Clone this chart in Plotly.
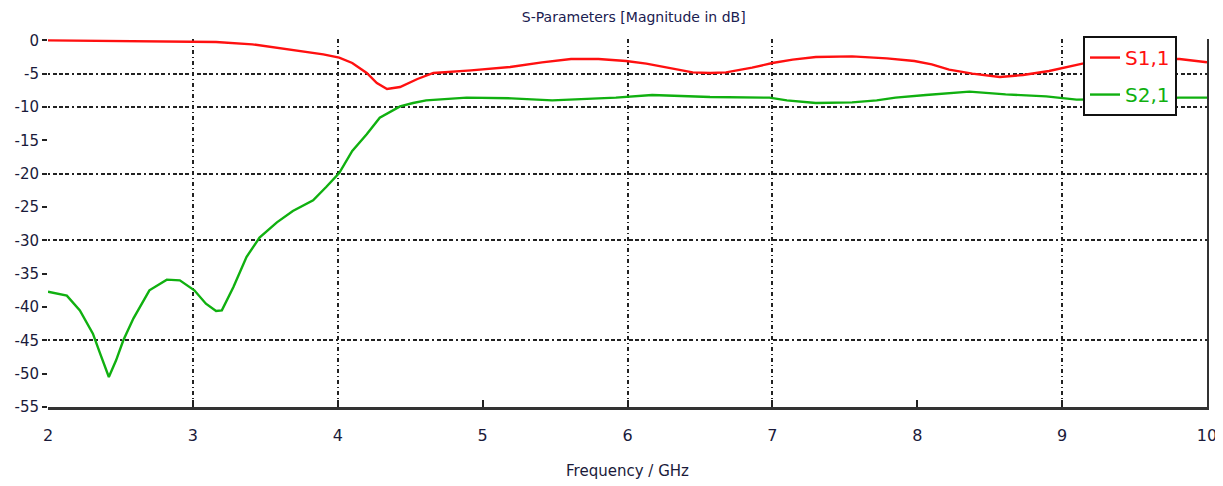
import plotly.graph_objects as go

# ---- data ----
freq_s11 = [2.0, 2.5, 2.75, 3.0, 3.16, 3.41, 3.61, 3.76, 3.9, 4.01, 4.1, 4.2, 4.27, 4.34,
            4.43, 4.55, 4.66, 4.92, 5.19, 5.41, 5.61, 5.8, 5.99, 6.13, 6.27, 6.45, 6.57,
            6.68, 6.86, 7.0, 7.14, 7.3, 7.55, 7.79, 7.98, 8.1, 8.22, 8.38, 8.57, 8.73,
            8.91, 9.03, 9.14, 9.4, 9.6, 9.81, 9.94, 10.0]
s11_db = [0.0, -0.1, -0.15, -0.2, -0.25, -0.6, -1.2, -1.7, -2.1, -2.6, -3.4, -4.9, -6.4, -7.3,
          -7.0, -5.8, -4.9, -4.5, -4.0, -3.3, -2.8, -2.8, -3.1, -3.5, -4.1, -4.8, -4.9,
          -4.8, -4.1, -3.4, -2.9, -2.5, -2.4, -2.7, -3.1, -3.6, -4.4, -5.0, -5.5, -5.2,
          -4.6, -4.0, -3.5, -3.0, -2.8, -2.8, -3.2, -3.3]

freq_s21 = [2.0, 2.13, 2.22, 2.31, 2.36, 2.42, 2.47, 2.52, 2.59, 2.70, 2.82, 2.91, 3.01, 3.09,
            3.16, 3.2, 3.28, 3.37, 3.46, 3.58, 3.69, 3.83, 3.92, 4.01, 4.1, 4.2, 4.29, 4.43,
            4.52, 4.61, 4.89, 5.2, 5.48, 5.92, 6.17, 6.57, 6.98, 7.1, 7.3, 7.55, 7.72, 7.85,
            8.06, 8.36, 8.61, 8.89, 9.1, 9.5, 9.81, 10.0]
s21_db = [-37.7, -38.3, -40.5, -44.0, -47.0, -50.5, -48.0, -45.0, -41.7, -37.5, -35.9, -36.0,
          -37.5, -39.5, -40.6, -40.5, -37.0, -32.5, -29.6, -27.3, -25.6, -24.0, -22.0, -19.9,
          -16.6, -14.1, -11.6, -9.9, -9.4, -9.0, -8.6, -8.7, -9.0, -8.6, -8.2, -8.5, -8.6,
          -9.0, -9.4, -9.3, -9.0, -8.6, -8.2, -7.7, -8.1, -8.4, -8.9, -8.8, -8.6, -8.6]

x_ticks = [2, 3, 4, 5, 6, 7, 8, 9, 10]
y_ticks = [0, -5, -10, -15, -20, -25, -30, -35, -40, -45, -50, -55]
y_tick_text = ["0", "-5", "-10", "-15", "-20", "-25", "-30", "-35", "-40", "-45", "-50", "-55"]
grid_x = [3, 4, 6, 7, 9]
grid_y = [-5, -10, -20, -30, -45]

title_text = "S-Parameters [Magnitude in dB]"
x_title = "Frequency / GHz"

RED = "#ff1010"
GREEN = "#10b010"
FONT = "DejaVu Sans"
X_RANGE = [2, 10]
Y_RANGE = [-55, 0.2]

fig = go.Figure()
fig.add_trace(go.Scatter(x=freq_s11, y=s11_db, mode="lines",
                         name=f"<span style='color:{RED}'>S1,1</span>",
                         line=dict(color=RED, width=2.4), legendgroup="a"))
fig.add_trace(go.Scatter(x=freq_s21, y=s21_db, mode="lines",
                         name=f"<span style='color:{GREEN}'>S2,1</span>",
                         line=dict(color=GREEN, width=2.4), legendgroup="b"))

# the page body adds an 8px offset, so the figure is sized to fit the window
fig.update_layout(
    width=1215, height=478,
    margin=dict(l=40, r=16, t=31, b=79, autoexpand=False),
    paper_bgcolor="white", plot_bgcolor="white",
    font=dict(family=FONT, color="#1a1a3a"),
    title=dict(text=title_text, x=0.515, xanchor="center", y=0.981, yanchor="middle",
               automargin=False,
               font=dict(size=14, color="#1a2050", family=FONT)),
    xaxis=dict(range=X_RANGE, tickvals=x_ticks, showgrid=False, zeroline=False,
               automargin=False,
               showline=True, linecolor="#333333", linewidth=3,
               ticks="inside", ticklen=7, tickwidth=2, tickcolor="#222222",
               ticklabelstandoff=12,
               tickfont=dict(size=16, color="#1a1a3a"),
               title=dict(text=x_title, font=dict(size=15, color="#1a1a3a"), standoff=22)),
    yaxis=dict(range=Y_RANGE, tickvals=y_ticks, ticktext=y_tick_text, showgrid=False,
               automargin=False,
               zeroline=False, showline=False,
               ticks="outside", ticklen=5, tickwidth=2, tickcolor="#222222",
               tickfont=dict(size=15, color="#1a1a3a")),
    xaxis2=dict(range=X_RANGE, overlaying="x", tickvals=grid_x, showticklabels=False,
                automargin=False,
                showgrid=True, gridcolor="#222222", gridwidth=1.5,
                griddash="4px,3px,1px,3px",
                zeroline=False, showline=False, ticks=""),
    yaxis2=dict(range=Y_RANGE, overlaying="y", side="right", tickvals=grid_y,
                automargin=False,
                showticklabels=False, showgrid=True, gridcolor="#222222", gridwidth=1.5,
                griddash="2px,3px,4px,2px,4px,2px,4px,3px",
                zeroline=False, showline=True, linecolor="#333333",
                linewidth=2, ticks=""),
    legend=dict(x=0.893, xanchor="left", y=1.008, yanchor="top",
                bgcolor="white", bordercolor="#111111", borderwidth=2,
                font=dict(size=20, family=FONT), tracegroupgap=8,
                itemwidth=30),
    showlegend=True,
)
# invisible trace so the overlay axes are drawn
fig.add_trace(go.Scatter(x=[None], y=[None], xaxis="x2", yaxis="y2", showlegend=False,
                         hoverinfo="skip"))

fig.write_html("out.html")
